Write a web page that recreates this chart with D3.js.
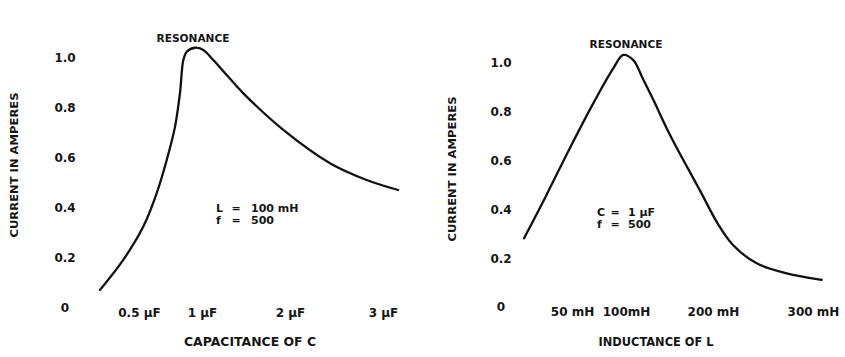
<!DOCTYPE html>
<html><head><meta charset="utf-8">
<script src="https://cdn.jsdelivr.net/npm/d3@7"></script>
<style>
body{margin:0;background:#fff;}
svg text{font-family:"DejaVu Sans","Liberation Sans",Arial,sans-serif;font-weight:bold;fill:#151515;}
</style></head>
<body><svg id="c" width="845" height="357"></svg>
<script>
// Left chart: current vs capacitance (μF)
const capTicks = [0.5, 1, 2, 3];
const capTickLabels = ["0.5 μF", "1 μF", "2 μF", "3 μF"];
const capX = [0.19, 0.375, 0.534, 0.64, 0.72, 0.786, 0.825, 0.852, 0.879, 0.944, 1.015, 1.128, 1.281, 1.47, 1.924, 2.43, 2.824, 3.163];
const capI = [0.072, 0.192, 0.325, 0.458, 0.591, 0.724, 0.857, 0.99, 1.023, 1.039, 1.03, 0.99, 0.93, 0.857, 0.711, 0.578, 0.511, 0.471];
// Right chart: current vs inductance (mH)
const indTicks = [50, 100, 200, 300];
const indTickLabels = ["50 mH", "100mH", "200 mH", "300 mH"];
const indX = [5.6, 25, 48.1, 71.3, 88.2, 97.5, 108.4, 118.4, 131.0, 150.6, 185.1, 205, 220, 243.7, 273.7, 308.7];
const indI = [0.282, 0.447, 0.652, 0.848, 0.978, 1.033, 1.012, 0.943, 0.852, 0.705, 0.477, 0.34, 0.254, 0.179, 0.138, 0.111];
const yTicks = [0, 0.2, 0.4, 0.6, 0.8, 1.0];
const yLabel = "CURRENT IN AMPERES";

const svg = d3.select("#c");

function styleText(sel, size) {
  sel.style("font-size", size + "px")
     .style("font-family", "DejaVu Sans, Liberation Sans, Arial, sans-serif")
     .style("font-weight", "bold").attr("fill", "#151515");
}

function panel(o) {
  const g = svg.append("g");
  const x = d3.scaleLinear().domain(o.ticks).range(o.xr);
  const y = d3.scaleLinear().domain([0, 1]).range(o.yr);
  // y axis
  const ya = g.append("g").attr("transform", `translate(${o.yaxX},0)`)
    .call(d3.axisLeft(y).tickValues(yTicks).tickSize(0).tickPadding(0)
      .tickFormat(d => d === 0 ? "0" : d3.format(".1f")(d)));
  ya.select(".domain").remove();
  ya.selectAll("text").attr("x", 0).attr("text-anchor", "middle").call(styleText, 12);
  // x axis
  const xa = g.append("g").attr("transform", `translate(0,${o.xaxY})`)
    .call(d3.axisBottom(x).tickValues(o.ticks).tickSize(0).tickPadding(0)
      .tickFormat((d, i) => o.labels[i]));
  xa.select(".domain").remove();
  xa.selectAll("text").attr("y", 0).attr("dy", "0.35em").call(styleText, 12);
  // curve
  const line = d3.line().x(d => x(d[0])).y(d => y(d[1])).curve(d3.curveCatmullRom.alpha(0.5));
  g.append("path").datum(o.xs.map((v, i) => [v, o.ys[i]]))
    .attr("d", line).attr("fill", "none").attr("stroke", "#111")
    .attr("stroke-width", 2.3).attr("stroke-linecap", "round").attr("stroke-linejoin", "round");
  // y title
  g.append("text").attr("transform", `translate(${o.ytX},${o.ytY}) rotate(-90)`)
    .attr("text-anchor", "middle").attr("dy", "0.35em").call(styleText, 11)
    .attr("textLength", 145).attr("lengthAdjust", "spacingAndGlyphs").text(yLabel);
  // x title
  g.append("text").attr("x", o.xtX).attr("y", 342).attr("dy", "0.35em").attr("text-anchor", "middle")
    .call(styleText, 12).attr("textLength", o.xtLen).attr("lengthAdjust", "spacingAndGlyphs").text(o.xtitle);
  // resonance
  g.append("text").attr("x", o.resX).attr("y", o.resY).attr("dy", "0.35em").attr("text-anchor", "middle")
    .call(styleText, 11).attr("textLength", 73).attr("lengthAdjust", "spacingAndGlyphs").text("RESONANCE");
  // annotation
  o.notes.forEach((n, i) => {
    const yy = o.noteY[i];
    g.append("text").attr("x", o.noteX[0]).attr("y", yy).attr("dy", "0.35em").call(styleText, 11).text(n[0]);
    g.append("text").attr("x", o.noteX[1]).attr("y", yy).attr("dy", "0.35em").attr("text-anchor", "middle").call(styleText, 11).text("=");
    g.append("text").attr("x", o.noteX[2]).attr("y", yy).attr("dy", "0.35em").call(styleText, 11).text(n[1]);
  });
}

panel({ticks: capTicks, labels: capTickLabels, xr: [139, 202, 290, 383], yr: [308, 57.5],
  yaxX: 65, xaxY: 313, xs: capX, ys: capI, ytX: 14, ytY: 165,
  xtX: 250, xtLen: 132, xtitle: "CAPACITANCE OF C", resX: 193, resY: 38,
  notes: [["L", "100 mH"], ["f", "500"]], noteX: [216, 236, 251], noteY: [208, 220.5]});
panel({ticks: indTicks, labels: indTickLabels, xr: [572, 626, 713, 813], yr: [307, 63],
  yaxX: 501, xaxY: 312, xs: indX, ys: indI, ytX: 452, ytY: 169,
  xtX: 656, xtLen: 115, xtitle: "INDUCTANCE OF L", resX: 626, resY: 44,
  notes: [["C", "1 μF"], ["f", "500"]], noteX: [597, 615, 628], noteY: [212.5, 224.5]});
</script></body></html>
